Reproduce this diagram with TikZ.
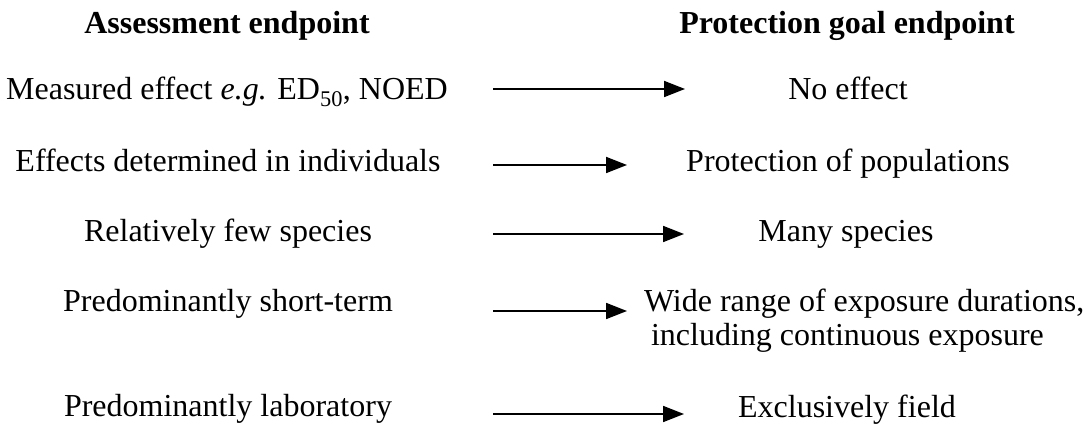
\documentclass[tikz,border=0pt]{standalone}
\usepackage{fontspec}
\setmainfont{Liberation Serif}
\usetikzlibrary{arrows.meta}

\begin{document}
\begin{tikzpicture}[x=1pt,y=-1pt,
  every node/.style={inner sep=0pt, outer sep=0pt, anchor=base,
                     font=\fontsize{32}{38}\selectfont},
  head/.style={font=\fontsize{32}{38}\selectfont\bfseries},
  lefttext/.style={},
  righttext/.style={},
  arr/.style={line width=1.8pt, -{Triangle[length=21pt,width=16pt]}}]

  \useasboundingbox (0,0) rectangle (1088,427);

  % column headings
  \node[head] (hl) at (227,34) {Assessment endpoint};
  \node[head] (hr) at (847,34) {Protection goal endpoint};

  % assessment endpoints (left column)
  \node[lefttext] (l1) at (227,100) {Measured effect \textit{e.g.} ED\textsubscript{50}, NOED};
  \node[lefttext] (l2) at (228,172) {Effects determined in individuals};
  \node[lefttext] (l3) at (228,242) {Relatively few species};
  \node[lefttext] (l4) at (228,312) {Predominantly short-term};
  \node[lefttext] (l5) at (228,417) {Predominantly laboratory};

  % protection goal endpoints (right column)
  \node[righttext] (r1) at (848,100) {No effect};
  \node[righttext] (r2) at (848,172) {Protection of populations};
  \node[righttext] (r3) at (846,242) {Many species};
  \node[righttext, anchor=base west] (r4a) at (644,312) {Wide range of exposure durations,};
  \node[righttext, anchor=base west] (r4b) at (651,346) {including continuous exposure};
  \node[righttext] (r5) at (847,418) {Exclusively field};

  % arrow end points
  \coordinate (s1) at (493,89);  \coordinate (e1) at (685,89);
  \coordinate (s2) at (493,165); \coordinate (e2) at (627,165);
  \coordinate (s3) at (493,234); \coordinate (e3) at (684,234);
  \coordinate (s4) at (493,311); \coordinate (e4) at (627,311);
  \coordinate (s5) at (493,414); \coordinate (e5) at (684,414);

  \draw[arr] (s1) -- (e1);
  \draw[arr] (s2) -- (e2);
  \draw[arr] (s3) -- (e3);
  \draw[arr] (s4) -- (e4);
  \draw[arr] (s5) -- (e5);
\end{tikzpicture}
\end{document}
